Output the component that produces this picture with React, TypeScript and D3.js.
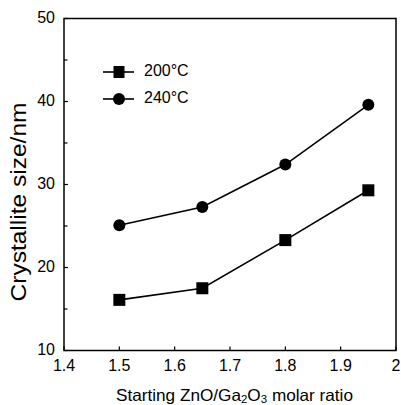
import React from "react";
import * as d3 from "d3";

const ratios = [1.5, 1.65, 1.8, 1.95];
const size200 = [16.1, 17.5, 23.3, 29.3];
const size240 = [25.1, 27.3, 32.4, 39.6];
const xTicks = [1.4, 1.5, 1.6, 1.7, 1.8, 1.9, 2];
const yTicks = [10, 20, 30, 40, 50];
const yMinorTicks = [15, 25, 35, 45];
const legendLabels = ["200\u00B0C", "240\u00B0C"];

const W = 401;
const H = 405;
const left = 64;
const right = 396;
const top = 18.5;
const bottom = 350.5;
const font = "Arial, 'Liberation Sans', Helvetica, sans-serif";

export default function App() {
  const x = d3.scaleLinear().domain([1.4, 2]).range([left, right]);
  const y = d3.scaleLinear().domain([10, 50]).range([bottom, top]);
  const line = d3
    .line<[number, number]>()
    .x((d) => x(d[0]))
    .y((d) => y(d[1]));
  const s200: [number, number][] = ratios.map((r, i) => [r, size200[i]]);
  const s240: [number, number][] = ratios.map((r, i) => [r, size240[i]]);
  const sq = 12;
  const cr = 6;

  return (
    <svg
      width={W}
      height={H}
      style={{ position: "absolute", left: 0, top: 0, background: "#fff" }}
      fontFamily={font}
    >
      <rect x={0} y={0} width={W} height={H} fill="#fff" />
      {/* frame */}
      <rect
        x={left}
        y={top}
        width={right - left}
        height={bottom - top}
        fill="none"
        stroke="#000"
        strokeWidth={1.5}
      />
      {/* x ticks */}
      {xTicks.map((t) => (
        <g key={"xt" + t}>
          <line x1={x(t)} x2={x(t)} y1={bottom} y2={bottom - 4} stroke="#000" strokeWidth={1.2} />
          <text x={x(t)} y={bottom + 16} fontSize={16} textAnchor="middle" dominantBaseline="middle" fill="#000">
            {t === 2 ? "2" : t.toFixed(1)}
          </text>
        </g>
      ))}
      {/* y ticks */}
      {yTicks.map((t) => (
        <g key={"yt" + t}>
          <line x1={left} x2={left + 4} y1={y(t)} y2={y(t)} stroke="#000" strokeWidth={1.2} />
          <text x={55} y={y(t)} fontSize={16} textAnchor="end" dominantBaseline="middle" fill="#000">
            {t}
          </text>
        </g>
      ))}
      {yMinorTicks.map((t) => (
        <line key={"ym" + t} x1={left} x2={left + 3.5} y1={y(t)} y2={y(t)} stroke="#000" strokeWidth={1.2} />
      ))}
      {/* series lines */}
      <path d={line(s200) || ""} fill="none" stroke="#000" strokeWidth={1.6} />
      <path d={line(s240) || ""} fill="none" stroke="#000" strokeWidth={1.6} />
      {s200.map((d, i) => (
        <rect key={"s" + i} x={x(d[0]) - sq / 2} y={y(d[1]) - sq / 2} width={sq} height={sq} fill="#000" />
      ))}
      {s240.map((d, i) => (
        <circle key={"c" + i} cx={x(d[0])} cy={y(d[1])} r={cr} fill="#000" />
      ))}
      {/* legend */}
      <g>
        <line x1={103} x2={134} y1={72} y2={72} stroke="#000" strokeWidth={1.6} />
        <rect x={119 - sq / 2 + 0.5} y={72 - sq / 2} width={sq - 1} height={sq} fill="#000" />
        <text x={144} y={72} fontSize={16} dominantBaseline="middle" fill="#000">
          {legendLabels[0]}
        </text>
        <line x1={103} x2={134} y1={99} y2={99} stroke="#000" strokeWidth={1.6} />
        <circle cx={119} cy={99} r={cr} fill="#000" />
        <text x={144} y={99} fontSize={16} dominantBaseline="middle" fill="#000">
          {legendLabels[1]}
        </text>
      </g>
      {/* axis titles */}
      <text
        x={116}
        y={397}
        fontSize={16.5}
        dominantBaseline="middle"
        fill="#000"
        textLength={237}
        lengthAdjust="spacingAndGlyphs"
      >
        Starting ZnO/Ga
        <tspan fontSize={11} dy={3}>2</tspan>
        <tspan dy={-3}>O</tspan>
        <tspan fontSize={11} dy={3}>3</tspan>
        <tspan dy={-3}> molar ratio</tspan>
      </text>
      <text
        transform={`translate(20, 202) rotate(-90)`}
        x={0}
        y={0}
        fontSize={22}
        textAnchor="middle"
        dominantBaseline="middle"
        fill="#000"
        textLength={199}
        lengthAdjust="spacingAndGlyphs"
      >
        Crystallite size/nm
      </text>
    </svg>
  );
}
